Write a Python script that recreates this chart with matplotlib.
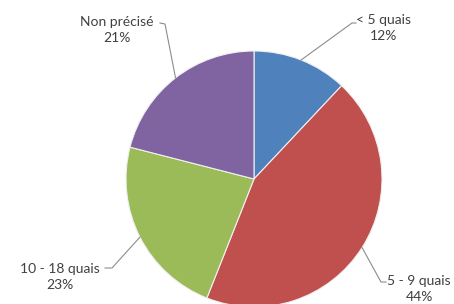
import numpy as np
import matplotlib
matplotlib.use("Agg")
from matplotlib import pyplot as plt

labels = ["< 5 quais", "5 - 9 quais", "10 - 18 quais", "Non précisé"]
shares = [12, 44, 23, 21]
colors = ["#4F81BD", "#C0504D", "#9BBB59", "#8064A2"]

# label text centre and leader elbow/end (pixels, y up)
text_pos = [(384, 276), (419, 15), (60, 27), (117, 274)]
elbows = [((352, 281), (356, 281)), ((381, 22), (386, 22)),
          ((112, 36), (105, 36)), ((165, 280), (160, 281))]

fig = plt.figure(figsize=(4.54, 3.04), dpi=100)
ax = fig.add_axes([0, 0, 1, 1])
cx, cy, r = 254, 125, 128
wedges, _ = ax.pie(shares, colors=colors, startangle=90, counterclock=False,
                   center=(cx, cy), radius=r,
                   wedgeprops=dict(edgecolor="#f0f0f0", linewidth=0.8))
ax.set_xlim(0, 454)
ax.set_ylim(0, 304)
ax.set_aspect("equal")
ax.axis("off")

for w, lab, s, tp, (el, en) in zip(wedges, labels, shares, text_pos, elbows):
    ang = np.deg2rad((w.theta1 + w.theta2) / 2)
    ex, ey = cx + r * np.cos(ang), cy + r * np.sin(ang)
    ax.plot([ex, el[0], en[0]], [ey, el[1], en[1]], color="#8c8c8c", lw=0.8)
    ax.text(tp[0], tp[1], "%s\n%d%%" % (lab, s), ha="center", va="center",
            fontsize=10, family="Lato", color="#404040", linespacing=1.35)

fig.savefig("out.png", dpi=100)
